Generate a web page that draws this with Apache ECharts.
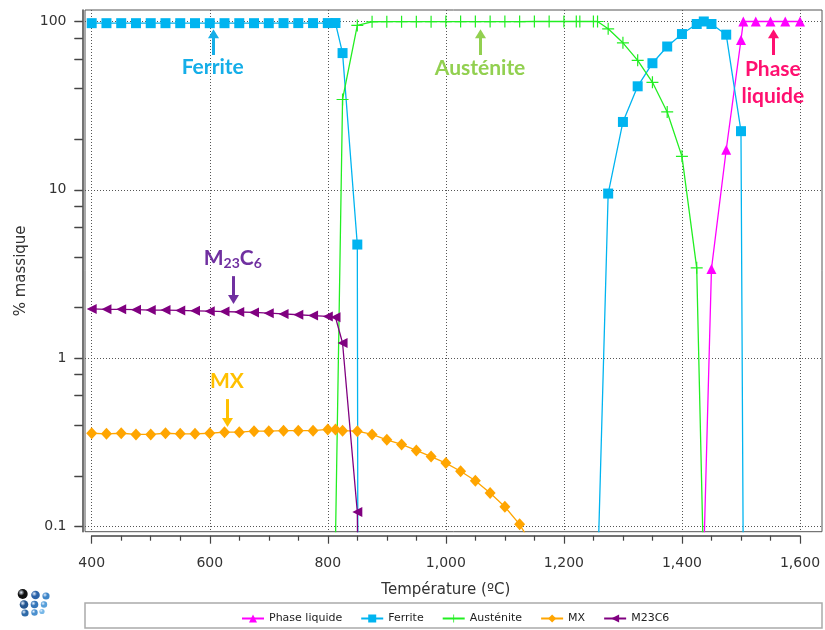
<!DOCTYPE html>
<html><head><meta charset="utf-8">
<script src="https://cdn.jsdelivr.net/npm/echarts@6/dist/echarts.min.js"></script>
<style>html,body{margin:0;padding:0;background:#fff}#c{width:825px;height:630px}</style>
</head><body><div id="c"></div>
<script>
// ---- data (temperature °C, mass %) ----
const seriesNames = ['Phase liquide', 'Ferrite', 'Austénite', 'MX', 'M23C6'];

const liquidT = [1436, 1450, 1475, 1500, 1504, 1525, 1550, 1575, 1600];
const liquidV = [0.05, 3.39, 17.3, 77.7, 100, 100, 100, 100, 100];

const ferriteT = [400, 425, 450, 475, 500, 525, 550, 575, 600, 625, 650, 675, 700, 725, 750, 775, 800, 813, 825, 850, 851,
                  1257, 1275, 1300, 1325, 1350, 1375, 1400, 1425, 1437, 1450, 1475, 1500, 1504];
const ferriteV = [97.7, 97.7, 97.7, 97.7, 97.7, 97.7, 97.7, 97.7, 97.7, 97.7, 97.7, 97.7, 97.7, 97.8, 97.8, 97.8, 97.8, 97.9, 64.9, 4.73, 0.05,
                  0.05, 9.5, 25.3, 41.2, 56.5, 71, 84.2, 96.6, 100, 96.6, 83.5, 22.3, 0.05];

const austeniteT = [812, 825, 850, 875, 900, 925, 950, 975, 1000, 1025, 1050, 1075, 1100, 1125, 1150, 1175, 1200,
                    1221, 1227, 1250, 1257, 1275, 1300, 1325, 1350, 1375, 1400, 1425, 1437];
const austeniteV = [0.05, 34.4, 94.8, 99.6, 99.7, 99.7, 99.7, 99.7, 99.8, 99.8, 99.8, 99.8, 99.9, 99.9, 100, 100, 100,
                    100, 100, 100, 100, 90.5, 74.7, 58.8, 43.5, 29, 15.8, 3.44, 0.05];

const mxT = [400, 425, 450, 475, 500, 525, 550, 575, 600, 625, 650, 675, 700, 725, 750, 775, 800, 813, 825, 850,
             875, 900, 925, 950, 975, 1000, 1025, 1050, 1075, 1100, 1125, 1135];
const mxV = [0.358, 0.355, 0.358, 0.352, 0.352, 0.358, 0.355, 0.355, 0.358, 0.363, 0.363, 0.368, 0.368, 0.371, 0.371, 0.371, 0.377, 0.377, 0.371, 0.368,
             0.352, 0.327, 0.307, 0.283, 0.260, 0.238, 0.213, 0.187, 0.158, 0.131, 0.103, 0.09];

const m23T = [400, 425, 450, 475, 500, 525, 550, 575, 600, 625, 650, 675, 700, 725, 750, 775, 800, 813, 825, 850, 851];
const m23V = [1.96, 1.95, 1.95, 1.94, 1.93, 1.93, 1.92, 1.91, 1.90, 1.89, 1.88, 1.87, 1.85, 1.83, 1.81, 1.79, 1.77, 1.75, 1.23, 0.122, 0.05];

const xTickLabels = [400, 600, 800, 1000, 1200, 1400, 1600];
const yTickLabels = [0.1, 1, 10, 100];
const yTickMarks = [0.1, 0.2, 0.4, 0.6, 0.8, 1, 2, 4, 6, 8, 10, 20, 40, 60, 80, 100];

// ---- annotations (data coords) ----
const annotations = [
  { text: 'Ferrite', color: '#15aee8', T: 605, tail: 63.2, head: 89.9, textV: [53.7] },
  { text: 'Austénite', color: '#92d050', T: 1058, tail: 63.2, head: 89.9, textV: [52.9] },
  { text: 'Phase', text2: 'liquide', color: '#ff1070', T: 1554, tail: 63.2, head: 89.9, textV: [52.2, 36.1] },
  { rich: true, color: '#7030a0', T: 639, tail: 3.07, head: 2.10, textV: [3.93] },
  { text: 'MX', color: '#ffc000', T: 629, tail: 0.571, head: 0.39, textV: [0.731] }
];

const zip = (a, b) => a.map((t, i) => [t, b[i]]);
const FONT = 'DejaVu Sans';
const plusPath = 'path://M9,0h2v20h-2z M0,9h20v2h-20z';
// split lines only at the decades (tick marks every 2,4,6,8 in between)
const ySplitColors = yTickMarks.map(v => (yTickLabels.indexOf(v) >= 0 ? '#555' : 'rgba(0,0,0,0)'));

const chart = echarts.init(document.getElementById('c'), null, { renderer: 'canvas' });

const common = { type: 'line', xAxisIndex: 1, yAxisIndex: 1, clip: true, animation: false, lineStyle: { width: 1.3 } };
const Y_MIN = 0.0931, Y_MAX = 117;
const Y_AXIS_OFFSET = 2.5, GRID0_LEFT = 85, TICK_LEN = 8;

const option = {
  backgroundColor: '#fff',
  animation: false,
  grid: [
    { left: GRID0_LEFT, right: 3, top: 10, bottom: 98.3, show: true, borderColor: '#555', borderWidth: 1, backgroundColor: 'transparent' },
    { left: 91.7, right: 25, top: 10, bottom: 98.3 }
  ],
  xAxis: [
    { gridIndex: 0, type: 'value', min: 388.6, max: 1637.3, show: false },
    { gridIndex: 1, type: 'value', min: 400, max: 1600, interval: 200, offset: 4,
      axisLine: { show: true, lineStyle: { color: '#444', width: 1.5 } },
      axisTick: { show: true, length: 8, lineStyle: { color: '#444', width: 1.2 } },
      minorTick: { show: true, splitNumber: 4, length: 5, lineStyle: { color: '#444', width: 1.2 } },
      axisLabel: { fontFamily: FONT, fontSize: 14, color: '#333', margin: 21 },
      splitLine: { show: true, lineStyle: { color: '#555', type: [1, 2], width: 1 } },
      name: 'Température (ºC)', nameLocation: 'middle', nameGap: 47,
      nameTextStyle: { fontFamily: FONT, fontSize: 15, color: '#333' } }
  ],
  yAxis: [
    { gridIndex: 0, type: 'log', logBase: 10, min: Y_MIN, max: Y_MAX, offset: Y_AXIS_OFFSET,
      axisLine: { show: true, lineStyle: { color: '#444', width: 1.5 } },
      axisTick: { show: true, length: TICK_LEN, customValues: yTickMarks, lineStyle: { color: '#444', width: 1.2 } },
      minorTick: { show: false },
      axisLabel: { customValues: yTickLabels, fontFamily: FONT, fontSize: 14, color: '#333', margin: 16,
                   formatter: v => String(Number(Number(v).toPrecision(6))) },
      splitLine: { show: true, lineStyle: { color: ySplitColors, type: [1, 2], width: 1 } },
      name: '% massique', nameLocation: 'middle', nameGap: 47,
      nameTextStyle: { fontFamily: FONT, fontSize: 15, color: '#333' } },
    { gridIndex: 1, type: 'log', logBase: 10, min: Y_MIN, max: Y_MAX, show: false }
  ],
  legend: {
    left: 236, top: 608, itemWidth: 22, itemHeight: 10, itemGap: 18,
    textStyle: { fontFamily: FONT, fontSize: 11, color: '#222' },
    data: seriesNames
  },
  series: [
    Object.assign({}, common, { name: seriesNames[0], data: zip(liquidT, liquidV), symbol: 'triangle', symbolSize: 10, color: '#ff00ff' }),
    Object.assign({}, common, { name: seriesNames[1], data: zip(ferriteT, ferriteV), symbol: 'rect', symbolSize: 10, color: '#00b4f0' }),
    Object.assign({}, common, { name: seriesNames[2], data: zip(austeniteT, austeniteV), symbol: plusPath, symbolSize: 12, color: '#22ee22' }),
    Object.assign({}, common, { name: seriesNames[3], data: zip(mxT, mxV), symbol: 'diamond', symbolSize: [11, 12], color: '#ffa500' }),
    Object.assign({}, common, { name: seriesNames[4], data: zip(m23T, m23V), symbol: 'triangle', symbolRotate: 90, symbolSize: 10, color: '#800080' })
  ]
};
chart.setOption(option);

// ---- graphics: legend frame, logo, y tick marks, annotations ----
const g = [];
g.push({ type: 'rect', shape: { x: 85, y: 603, width: 737, height: 25 }, style: { fill: 'none', stroke: '#aaa', lineWidth: 1.5 }, z: 0 });

const logo = [[22.7, 594, 5, '#111'], [35.5, 595, 4.3, '#2b62a8'], [46, 596, 3.6, '#3f86c8'],
              [24, 604.5, 4.3, '#24558f'], [34.5, 604.5, 3.8, '#3575b8'], [44, 604.5, 3.2, '#58a0da'],
              [25, 613, 3.6, '#2f6aa8'], [34.5, 612.5, 3.2, '#4b90cf'], [42, 611.5, 2.6, '#78b8e8']];
logo.forEach(c => g.push({ type: 'circle', shape: { cx: c[0], cy: c[1], r: c[2] },
  style: { fill: new echarts.graphic.RadialGradient(0.35, 0.35, 0.7, [{ offset: 0, color: '#e8f2ff' }, { offset: 0.45, color: c[3] }, { offset: 1, color: c[3] }]) } }));

const px = (T, v) => chart.convertToPixel({ xAxisIndex: 1, yAxisIndex: 1 }, [T, v]);

// y-axis tick marks placed through the (identical) log scale of the plotting grid
const axisX = GRID0_LEFT - Y_AXIS_OFFSET;
yTickMarks.forEach(v => {
  const p = px(400, v);
  if (!p || !isFinite(p[1])) return;
  const y = Math.round(p[1]) + 0.5;
  g.push({ type: 'line', shape: { x1: axisX - TICK_LEN, y1: y, x2: axisX, y2: y }, style: { stroke: '#444', lineWidth: 1.3 }, z: 20 });
});

annotations.forEach(a => {
  const p1 = px(a.T, a.tail), p2 = px(a.T, a.head);
  const x = Math.round(p1[0]) + 0.5;
  const dir = Math.sign(p2[1] - p1[1]);
  g.push({ type: 'line', shape: { x1: x, y1: p1[1], x2: x, y2: p2[1] - dir * 7 }, style: { stroke: a.color, lineWidth: 3 }, z: 10 });
  g.push({ type: 'polygon', shape: { points: [[x - 5.5, p2[1] - dir * 9], [x + 5.5, p2[1] - dir * 9], [x, p2[1]]] }, style: { fill: a.color }, z: 10 });
  const t1 = px(a.T, a.textV[0]);
  if (a.rich) {
    g.push({ type: 'text', x: t1[0], y: t1[1], z: 10, style: {
      text: '{b|M}{s|23}{b|C}{s|6}', align: 'center', verticalAlign: 'middle',
      rich: { b: { fontFamily: 'Lato', fontWeight: 'bold', fontSize: 21, lineHeight: 24, fill: a.color },
              s: { fontFamily: 'Lato', fontWeight: 'bold', fontSize: 14, lineHeight: 14, padding: [10, 0, 0, 0], fill: a.color } } } });
  } else {
    g.push({ type: 'text', x: t1[0], y: t1[1], z: 10, style: { text: a.text, align: 'center', verticalAlign: 'middle',
      font: 'bold 21px Lato', fill: a.color } });
    if (a.text2) {
      const t2 = px(a.T, a.textV[1]);
      g.push({ type: 'text', x: t2[0], y: t2[1], z: 10, style: { text: a.text2, align: 'center', verticalAlign: 'middle',
        font: 'bold 21px Lato', fill: a.color } });
    }
  }
});
chart.setOption({ graphic: g });
</script>
</body></html>
